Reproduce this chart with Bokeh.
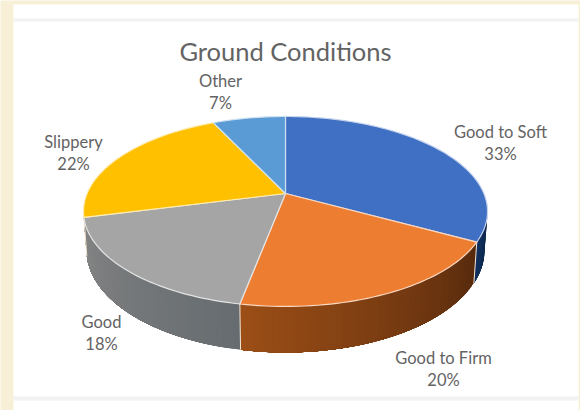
import math
from bokeh.embed import file_html
from bokeh.resources import INLINE
from bokeh.plotting import figure
from bokeh.models import Range1d
from bokeh.core.properties import value

# ---- data ----
title = "Ground Conditions"
categories = ["Good to Soft", "Good to Firm", "Good", "Slippery", "Other"]
shares = [33, 20, 18, 22, 7]

# ---- styles ----
top_colors = ["#4070c4", "#ed7d31", "#a5a5a5", "#ffc000", "#5b9bd5"]
wall_near = ["#0a2447", "#562a0d", "#666c70", "#8a6800", "#2f5f8f"]
wall_far = ["#12315f", "#9c4e16", "#858585", "#a07a00", "#2f5f8f"]
CREAM = "#f8f0d6"

W, H = 580, 410
p = figure(width=W, height=H, output_backend="svg", toolbar_location=None,
           x_range=Range1d(0, W), y_range=Range1d(H, 0),
           background_fill_color=CREAM, border_fill_color=CREAM, min_border=0)
p.axis.visible = False
p.grid.visible = False
p.outline_line_color = None

# panel
p.quad(left=[13], right=[578], top=[4], bottom=[410], fill_color="#ffffff", line_color=None)
p.quad(left=[13, 13], right=[578, 578], top=[18, 396], bottom=[21, 400],
       fill_color="#f2f2f2", line_color=None)

# pie projection
CX, CY, R, A, K, D = 285.0, 193.0, 198.4, 91.6, 0.189, 37.3
SHRINK = 0.985


def top_pt(t):
    u, v = math.sin(t), math.cos(t)
    den = 1 + K * v
    return CX + R * u / den, CY - A * v / den


def low_pt(t):
    x, y = top_pt(t)
    return CX + (x - CX) * SHRINK, y + D / (1 + K * math.cos(t))


def mix(c1, c2, f):
    a = [int(c1[i:i + 2], 16) for i in (1, 3, 5)]
    b = [int(c2[i:i + 2], 16) for i in (1, 3, 5)]
    return "#%02x%02x%02x" % tuple(round(a[i] + (b[i] - a[i]) * f) for i in range(3))


total = sum(shares)
edges = [0.0]
for s in shares:
    edges.append(edges[-1] + s / total * 2 * math.pi)

vis0, vis1 = math.acos(-K), 2 * math.pi - math.acos(-K)

# side walls: each strip runs to the end of the slice and is overdrawn by the next
for i in range(len(shares)):
    a0, a1 = max(edges[i], vis0), min(edges[i + 1], vis1)
    if a1 <= a0:
        continue
    n = max(2, int((a1 - a0) / math.radians(1.5)))
    xs, ys, cols = [], [], []
    for j in range(n):
        t0 = a0 + (a1 - a0) * j / n
        steps = [t0 + (a1 - t0) * k / 12 for k in range(13)]
        upper = [top_pt(t) for t in steps]
        lower = [low_pt(t) for t in reversed(steps)]
        xs.append([q[0] for q in upper + lower])
        ys.append([q[1] for q in upper + lower])
        cols.append(mix(wall_near[i], wall_far[i], (j + 0.5) / n))
    p.patches(xs, ys, fill_color=cols, line_color=None)
    # vertical bright edge at the start of a slice
    if edges[i] >= vis0 and i > 0:
        x0, y0 = top_pt(edges[i])
        x3, y3 = low_pt(edges[i])
        p.line([x0, x3], [y0, y3], line_color="#f6e7d8", line_width=1)

# top faces
for i in range(len(shares)):
    n = max(8, int((edges[i + 1] - edges[i]) / math.radians(1.5)))
    pts = [top_pt(edges[i] + (edges[i + 1] - edges[i]) * j / n) for j in range(n + 1)]
    xs = [CX] + [q[0] for q in pts]
    ys = [CY] + [q[1] for q in pts]
    p.patch(xs, ys, fill_color=top_colors[i], line_color=mix(top_colors[i], "#ffffff", 0.7),
            line_width=1.2, line_join="round")

# texts
label_pos = [(500, 131), (443, 357), (101, 321), (73, 141), (220, 80)]
for name, s, (lx, ly) in zip(categories, shares, label_pos):
    p.text([lx, lx], [ly, ly + 22.5], text=[name, f"{s}%"], text_font=value("Lato"),
           text_font_size="16.5px", text_color="#636363", text_align="center",
           text_baseline="middle")
p.text([285], [50], text=[title], text_font=value("Lato"), text_font_size="25.5px",
       text_color="#636363", text_align="center", text_baseline="middle")

open("out.html", "w").write(file_html(p, INLINE))
